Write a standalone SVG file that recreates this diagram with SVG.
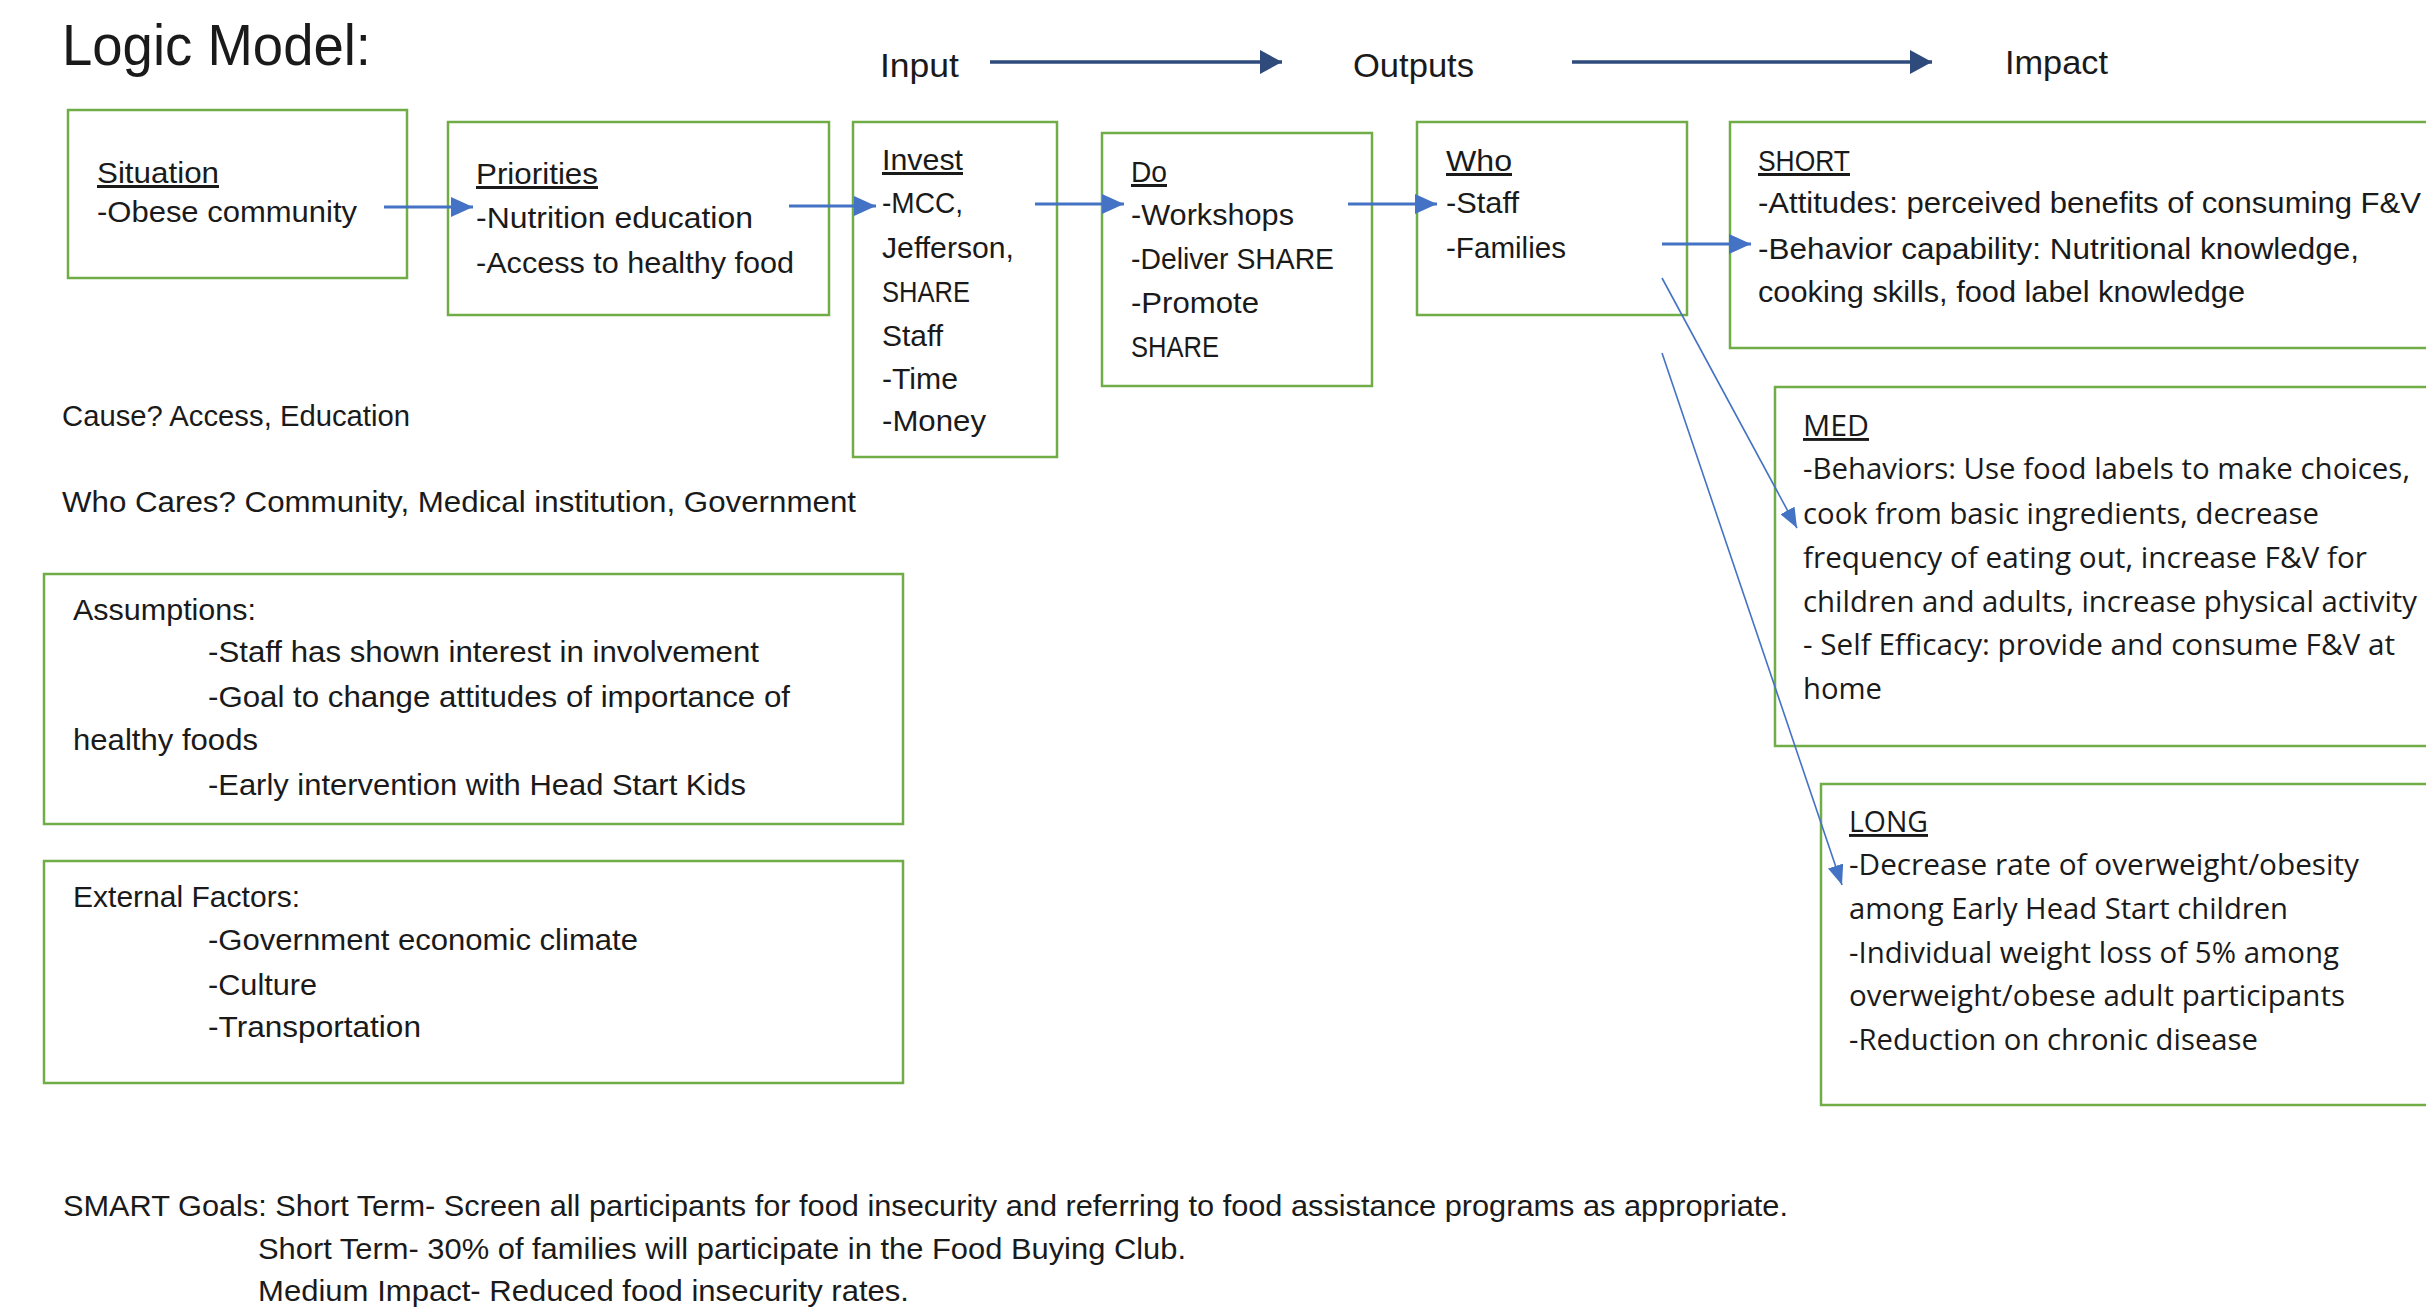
<svg xmlns="http://www.w3.org/2000/svg" width="2426" height="1315" viewBox="0 0 2426 1315">
  <defs>
    <style>
      .box{fill:none;stroke:#70AD47;stroke-width:2.5}
      .t{font-family:"Liberation Sans",Arial,sans-serif;font-size:30px;fill:#1a1a1a}
      .o{font-family:"Open Sans","Liberation Sans",sans-serif;font-size:29px}
      .u{text-decoration:underline}
      .hd{font-size:33px}
      .title{font-size:57px}
      .link{stroke:#4472C4;stroke-width:3;fill:none}
      .thin{stroke:#4472C4;stroke-width:1.6;fill:none}
      .nav{stroke:#2F4B7C;stroke-width:3.5;fill:none}
    </style>
    <marker id="blueHead" markerUnits="userSpaceOnUse" markerWidth="22" markerHeight="20" refX="22" refY="10" orient="auto">
      <path d="M0,0 L22,10 L0,20 z" fill="#4472C4"/>
    </marker>
    <marker id="thinHead" markerUnits="userSpaceOnUse" markerWidth="20" markerHeight="16" refX="20" refY="8" orient="auto">
      <path d="M0,0 L20,8 L0,16 z" fill="#4472C4"/>
    </marker>
    <marker id="navHead" markerUnits="userSpaceOnUse" markerWidth="22" markerHeight="24" refX="22" refY="12" orient="auto">
      <path d="M0,0 L22,12 L0,24 z" fill="#2F4B7C"/>
    </marker>
  </defs>

  <rect width="2426" height="1315" fill="#ffffff"/>

  <!-- heading and stage labels -->
  <g id="header">
    <text class="t title" x="62" y="65" textLength="309" lengthAdjust="spacingAndGlyphs">Logic Model:</text>
    <text class="t hd" x="880" y="77" textLength="79" lengthAdjust="spacingAndGlyphs">Input</text>
    <text class="t hd" x="1353" y="77" textLength="121" lengthAdjust="spacingAndGlyphs">Outputs</text>
    <text class="t hd" x="2005" y="74" textLength="103" lengthAdjust="spacingAndGlyphs">Impact</text>
    <line class="nav" x1="990" y1="62" x2="1282" y2="62" marker-end="url(#navHead)"/>
    <line class="nav" x1="1572" y1="62" x2="1932" y2="62" marker-end="url(#navHead)"/>
  </g>

  <g id="situation">
    <rect class="box" x="68" y="110" width="339" height="168"/>
    <text class="t u" x="97" y="183" textLength="122" lengthAdjust="spacingAndGlyphs">Situation</text>
    <text class="t" x="97" y="222" textLength="260" lengthAdjust="spacingAndGlyphs">-Obese community</text>
  </g>

  <g id="priorities">
    <rect class="box" x="448" y="122" width="381" height="193"/>
    <text class="t u" x="476" y="184" textLength="122" lengthAdjust="spacingAndGlyphs">Priorities</text>
    <text class="t" x="476" y="228" textLength="277" lengthAdjust="spacingAndGlyphs">-Nutrition education</text>
    <text class="t" x="476" y="273" textLength="318" lengthAdjust="spacingAndGlyphs">-Access to healthy food</text>
  </g>

  <g id="invest">
    <rect class="box" x="853" y="122" width="204" height="335"/>
    <text class="t u" x="882" y="170" textLength="81" lengthAdjust="spacingAndGlyphs">Invest</text>
    <text class="t" x="882" y="213" textLength="81" lengthAdjust="spacingAndGlyphs">-MCC,</text>
    <text class="t" x="882" y="258" textLength="132" lengthAdjust="spacingAndGlyphs">Jefferson,</text>
    <text class="t" x="882" y="302" textLength="88" lengthAdjust="spacingAndGlyphs">SHARE</text>
    <text class="t" x="882" y="346" textLength="61" lengthAdjust="spacingAndGlyphs">Staff</text>
    <text class="t" x="882" y="389" textLength="76" lengthAdjust="spacingAndGlyphs">-Time</text>
    <text class="t" x="882" y="431" textLength="104" lengthAdjust="spacingAndGlyphs">-Money</text>
  </g>

  <g id="do">
    <rect class="box" x="1102" y="133" width="270" height="253"/>
    <text class="t u" x="1131" y="182" textLength="36" lengthAdjust="spacingAndGlyphs">Do</text>
    <text class="t" x="1131" y="225" textLength="163" lengthAdjust="spacingAndGlyphs">-Workshops</text>
    <text class="t" x="1131" y="269" textLength="203" lengthAdjust="spacingAndGlyphs">-Deliver SHARE</text>
    <text class="t" x="1131" y="313" textLength="128" lengthAdjust="spacingAndGlyphs">-Promote</text>
    <text class="t" x="1131" y="357" textLength="88" lengthAdjust="spacingAndGlyphs">SHARE</text>
  </g>

  <g id="who">
    <rect class="box" x="1417" y="122" width="270" height="193"/>
    <text class="t u" x="1446" y="171" textLength="66" lengthAdjust="spacingAndGlyphs">Who</text>
    <text class="t" x="1446" y="213" textLength="73" lengthAdjust="spacingAndGlyphs">-Staff</text>
    <text class="t" x="1446" y="258" textLength="120" lengthAdjust="spacingAndGlyphs">-Families</text>
  </g>

  <g id="short">
    <rect class="box" x="1730" y="122" width="720" height="226"/>
    <text class="t u" x="1758" y="171" textLength="92" lengthAdjust="spacingAndGlyphs">SHORT</text>
    <text class="t" x="1758" y="213" textLength="663" lengthAdjust="spacingAndGlyphs">-Attitudes: perceived benefits of consuming F&amp;V</text>
    <text class="t" x="1758" y="259" textLength="601" lengthAdjust="spacingAndGlyphs">-Behavior capability: Nutritional knowledge,</text>
    <text class="t" x="1758" y="302" textLength="487" lengthAdjust="spacingAndGlyphs">cooking skills, food label knowledge</text>
  </g>

  <g id="med">
    <rect class="box" x="1775" y="387" width="680" height="359"/>
    <text class="t o u" x="1803" y="436" textLength="66" lengthAdjust="spacingAndGlyphs">MED</text>
    <text class="t o" x="1803" y="479" textLength="607" lengthAdjust="spacingAndGlyphs">-Behaviors: Use food labels to make choices,</text>
    <text class="t o" x="1803" y="524" textLength="516" lengthAdjust="spacingAndGlyphs">cook from basic ingredients, decrease</text>
    <text class="t o" x="1803" y="568" textLength="564" lengthAdjust="spacingAndGlyphs">frequency of eating out, increase F&amp;V for</text>
    <text class="t o" x="1803" y="612" textLength="614" lengthAdjust="spacingAndGlyphs">children and adults, increase physical activity</text>
    <text class="t o" x="1803" y="655" textLength="592" lengthAdjust="spacingAndGlyphs">- Self Efficacy: provide and consume F&amp;V at</text>
    <text class="t o" x="1803" y="699" textLength="79" lengthAdjust="spacingAndGlyphs">home</text>
  </g>

  <g id="long">
    <rect class="box" x="1821" y="784" width="640" height="321"/>
    <text class="t o u" x="1849" y="832" textLength="79" lengthAdjust="spacingAndGlyphs">LONG</text>
    <text class="t o" x="1849" y="875" textLength="510" lengthAdjust="spacingAndGlyphs">-Decrease rate of overweight/obesity</text>
    <text class="t o" x="1849" y="919" textLength="439" lengthAdjust="spacingAndGlyphs">among Early Head Start children</text>
    <text class="t o" x="1849" y="963" textLength="490" lengthAdjust="spacingAndGlyphs">-Individual weight loss of 5% among</text>
    <text class="t o" x="1849" y="1006" textLength="496" lengthAdjust="spacingAndGlyphs">overweight/obese adult participants</text>
    <text class="t o" x="1849" y="1050" textLength="409" lengthAdjust="spacingAndGlyphs">-Reduction on chronic disease</text>
  </g>

  <g id="context">
    <text class="t" x="62" y="426" textLength="348" lengthAdjust="spacingAndGlyphs">Cause? Access, Education</text>
    <text class="t" x="62" y="512" textLength="794" lengthAdjust="spacingAndGlyphs">Who Cares? Community, Medical institution, Government</text>
  </g>

  <g id="assumptions">
    <rect class="box" x="44" y="574" width="859" height="250"/>
    <text class="t" x="73" y="620" textLength="183" lengthAdjust="spacingAndGlyphs">Assumptions:</text>
    <text class="t" x="208" y="662" textLength="551" lengthAdjust="spacingAndGlyphs">-Staff has shown interest in involvement</text>
    <text class="t" x="208" y="707" textLength="582" lengthAdjust="spacingAndGlyphs">-Goal to change attitudes of importance of</text>
    <text class="t" x="73" y="750" textLength="185" lengthAdjust="spacingAndGlyphs">healthy foods</text>
    <text class="t" x="208" y="795" textLength="538" lengthAdjust="spacingAndGlyphs">-Early intervention with Head Start Kids</text>
  </g>

  <g id="external-factors">
    <rect class="box" x="44" y="861" width="859" height="222"/>
    <text class="t" x="73" y="907" textLength="227" lengthAdjust="spacingAndGlyphs">External Factors:</text>
    <text class="t" x="208" y="950" textLength="430" lengthAdjust="spacingAndGlyphs">-Government economic climate</text>
    <text class="t" x="208" y="995" textLength="109" lengthAdjust="spacingAndGlyphs">-Culture</text>
    <text class="t" x="208" y="1037" textLength="213" lengthAdjust="spacingAndGlyphs">-Transportation</text>
  </g>

  <g id="smart-goals">
    <text class="t" x="63" y="1216" textLength="1725" lengthAdjust="spacingAndGlyphs">SMART Goals: Short Term- Screen all participants for food insecurity and referring to food assistance programs as appropriate.</text>
    <text class="t" x="258" y="1259" textLength="928" lengthAdjust="spacingAndGlyphs">Short Term- 30% of families will participate in the Food Buying Club.</text>
    <text class="t" x="258" y="1301" textLength="651" lengthAdjust="spacingAndGlyphs">Medium Impact- Reduced food insecurity rates.</text>
  </g>

  <!-- flow arrows between the boxes -->
  <g id="connectors">
    <line class="link" x1="384" y1="207" x2="473" y2="207" marker-end="url(#blueHead)"/>
    <line class="link" x1="789" y1="206" x2="876" y2="206" marker-end="url(#blueHead)"/>
    <line class="link" x1="1035" y1="204" x2="1124" y2="204" marker-end="url(#blueHead)"/>
    <line class="link" x1="1348" y1="204" x2="1437" y2="204" marker-end="url(#blueHead)"/>
    <line class="link" x1="1662" y1="244" x2="1751" y2="244" marker-end="url(#blueHead)"/>
    <line class="thin" x1="1662" y1="278" x2="1797" y2="528" marker-end="url(#thinHead)"/>
    <line class="thin" x1="1662" y1="353" x2="1842" y2="885" marker-end="url(#thinHead)"/>
  </g>
</svg>
